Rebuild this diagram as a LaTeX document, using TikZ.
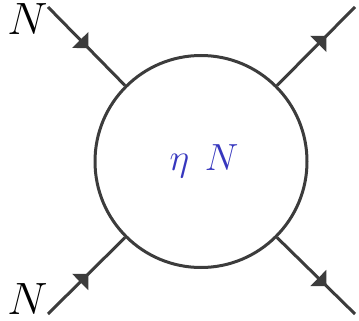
\documentclass[tikz,border=0pt]{standalone}
\usetikzlibrary{decorations.markings}
\definecolor{ink}{RGB}{60,60,60}
\definecolor{lbl}{RGB}{55,55,190}
\tikzset{
  prop/.style={draw=ink,line width=3pt},
  fwd/.style={prop,postaction={decorate},decoration={markings,
     mark=at position #1 with {\fill[ink] (0pt,11.5pt) -- (11.5pt,0pt) -- (0pt,-11.5pt) -- cycle;}}},
  blobstyle/.style={circle,draw=ink,line width=3pt,minimum size=212pt,inner sep=0pt},
  extlabel/.style={inner sep=0pt,anchor=base,font=\Huge,scale=1.82},
  inlabel/.style={inner sep=0pt,anchor=base,text=lbl,font=\Huge,scale=1.52},
}
\begin{document}
\begin{tikzpicture}[x=1pt,y=-1pt]
\useasboundingbox (0,0) rectangle (359,321);
\node[blobstyle] (blob) at (201,161.5) {};
\coordinate (a) at (48,7);
\coordinate (b) at (48,314);
\coordinate (c) at (355,7);
\coordinate (d) at (355,314);
\draw[fwd=0.42] (a) -- (blob.135);
\draw[fwd=0.42] (b) -- (blob.225);
\draw[fwd=0.53] (blob.45) -- (c);
\draw[fwd=0.53] (blob.315) -- (d);
\node[extlabel] (na) at (27.5,35) {$N$};
\node[extlabel] (nb) at (27.5,314) {$N$};
\node[inlabel] (eta) at (204,170) {$\eta\ \mkern2mu N$};
\end{tikzpicture}
\end{document}
